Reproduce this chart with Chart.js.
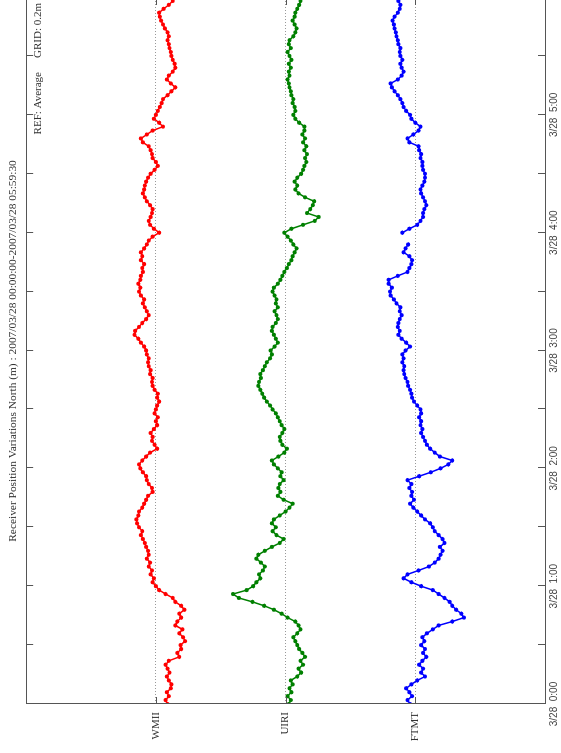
<!DOCTYPE html>
<html>
<head>
<meta charset="utf-8">
<script src="https://cdn.jsdelivr.net/npm/chart.js@4.4.0/dist/chart.umd.min.js"></script>
<style>
html, body { margin: 0; padding: 0; background: #fff; overflow: hidden; width: 561px; height: 753px; }
#wrap { position: absolute; left: 0; top: 0; width: 770px; height: 561px; transform-origin: 0 0; transform: translateY(753px) rotate(-90deg); }
#posChart { display: block; }
</style>
</head>
<body>
<div id="wrap"><canvas id="posChart" width="770" height="561"></canvas></div>
<script>
// stations, top to bottom
const stations = ["WMII", "UIRI", "FTMT"];
const stationBase = [0.6, 0.4, 0.2];          // m, grid 0.2m apart
const stationColors = ["#ff0000", "#008000", "#0000ff"];

// hour ticks, labels on whole hours
const hourTicks = [0, 0.5, 1, 1.5, 2, 2.5, 3, 3.5, 4, 4.5, 5, 5.5];
const dayLabel = "3/28";

// one sample every 2 minutes, 00:00 .. 05:58
const sampleMinutes = Array.from({ length: 180 }, (_, i) => i * 2);

// north variation in mm
const wmiiNorth = [
  -18, -15, -20, -17, -23, -24, -20, -17, -21, -18,
  -15, -20, -36, -33, -39, -38, -45, -42, -36, -41,
  -30, -33, -39, -36, -44, -39, -30, -26, -15, -5,
  0, 5, 3, 8, 6, 11, 9, 14, 11, 12,
  15, 17, 20, 23, 21, 26, 29, 30, 27, 26,
  21, 18, 15, 12, 5, 6, 11, 14, 15, 20,
  24, 26, 21, 15, 9, -2, 2, 6, 5, 8,
  3, -2, 0, -3, 2, 0, -2, -5, -2, -3,
  2, 5, 6, 5, 9, 8, 11, 12, 11, 14,
  15, 18, 23, 27, 33, 32, 26, 21, 15, 11,
  14, 17, 20, 18, 23, 26, 24, 27, 24, 23,
  20, 21, 18, 23, 21, 23, 18, 14, 11, 5,
  -5, 3, 9, 11, 8, 6, 5, 9, 14, 17,
  20, 18, 17, 15, 12, 8, 2, -3, 0, 5,
  6, 8, 11, 20, 23, 14, 5, -11, -5, 3,
  0, -3, -6, -9, -11, -18, -24, -30, -23, -17,
  -20, -26, -30, -29, -26, -24, -23, -21, -20, -18,
  -20, -18, -14, -11, -8, -6, -5, -12, -20, -26
];
const uiriNorth = [
  -5, -8, -3, -9, -6, -11, -8, -18, -24, -20,
  -27, -23, -30, -26, -21, -18, -15, -12, -18, -23,
  -20, -15, -3, 6, 18, 33, 51, 72, 81, 60,
  50, 45, 39, 41, 35, 32, 38, 45, 42, 32,
  21, 9, 3, 14, 20, 15, 21, 18, 9, 0,
  -6, -11, 3, 12, 8, 11, 9, 3, 8, 6,
  12, 18, 21, 11, 2, -2, 5, 8, 9, 5,
  2, 6, 9, 12, 15, 20, 24, 29, 33, 36,
  39, 42, 41, 38, 39, 35, 32, 29, 24, 21,
  23, 17, 12, 15, 18, 21, 20, 15, 12, 14,
  17, 12, 15, 14, 17, 20, 18, 12, 8, 5,
  2, -2, -5, -9, -11, -14, -17, -12, -8, -3,
  2, -9, -27, -45, -51, -33, -38, -42, -44, -30,
  -20, -15, -18, -14, -18, -24, -27, -29, -32, -30,
  -33, -29, -32, -27, -30, -26, -29, -29, -21, -15,
  -12, -15, -14, -11, -12, -9, -8, -6, -5, -3,
  -6, -5, -8, -5, -9, -6, -3, -8, -5, -6,
  -12, -15, -17, -14, -11, -14, -15, -18, -21, -23
];
const ftmtNorth = [
  8, 12, 5, 9, 14, 6, -3, -15, -9, -12,
  -6, -11, -17, -12, -15, -9, -14, -11, -18, -27,
  -36, -57, -75, -71, -63, -57, -53, -45, -36, -27,
  -9, 6, 18, 12, -5, -21, -30, -36, -39, -42,
  -38, -45, -42, -36, -30, -27, -23, -15, -9, -3,
  3, 8, 2, 6, 5, 9, 6, 12, -6, -24,
  -39, -51, -57, -38, -30, -23, -18, -15, -12, -9,
  -11, -8, -9, -6, -9, -8, -3, 2, 5, 6,
  8, 11, 12, 15, 17, 18, 17, 20, 18, 20,
  15, 8, 14, 21, 26, 24, 27, 26, 24, 21,
  24, 23, 29, 33, 38, 39, 36, 41, 41, 27,
  12, 9, 6, 5, 9, 18, 15, 11, null, null,
  20, 9, -3, -8, -12, -12, -14, -17, -15, -12,
  -9, -8, -11, -14, -15, -15, -12, -11, -11, -8,
  -9, -6, -5, 9, 12, 3, -5, -8, 0, 6,
  8, 14, 18, 20, 23, 27, 32, 36, 38, 27,
  21, 18, 21, 23, 20, 23, 24, 23, 26, 27,
  29, 30, 32, 33, 35, 32, 27, 24, 23, 26
];
const stationSeries = [wmiiNorth, uiriNorth, ftmtNorth];

const titleText = "Receiver Position Variations North (m) : 2007/03/28 00:00:00-2007/03/28 05:59:30";

function toPoints(values, base) {
    return values.map((v, i) => ({
        x: sampleMinutes[i] / 60,
        y: v === null ? null : base + v / 1000
    }));
}

// frame box, inward ticks and the REF/GRID note
const frameTicks = {
    id: "frameTicks",
    afterDraw(chart) {
        const { ctx, chartArea: a, scales } = chart;
        ctx.save();
        ctx.strokeStyle = "#555";
        ctx.lineWidth = 1;
        ctx.strokeRect(Math.round(a.left) + 0.5, Math.round(a.top) + 0.5,
            Math.round(a.right - a.left), Math.round(a.bottom - a.top));
        ctx.beginPath();
        scales.x.ticks.forEach(t => {
            const px = Math.round(scales.x.getPixelForValue(t.value)) + 0.5;
            ctx.moveTo(px, a.top); ctx.lineTo(px, a.top + 7);
            ctx.moveTo(px, a.bottom); ctx.lineTo(px, a.bottom - 7);
        });
        scales.y.ticks.forEach(t => {
            const py = Math.round(scales.y.getPixelForValue(t.value)) + 0.5;
            ctx.moveTo(a.left, py); ctx.lineTo(a.left + 7, py);
            ctx.moveTo(a.right, py); ctx.lineTo(a.right - 7, py);
        });
        ctx.stroke();

        ctx.fillStyle = "#333";
        ctx.font = '11px "Liberation Serif"';
        ctx.textBaseline = "middle";
        ctx.textAlign = "right";
        ctx.fillText("GRID: 0.2m", a.right - 5, a.top + 12);
        ctx.fillText("REF: Average", a.right - 74, a.top + 12);
        ctx.restore();
    }
};

const ctx = document.getElementById("posChart").getContext("2d");
window.posChart = new Chart(ctx, {
    type: "line",
    data: {
        datasets: stations.map((name, k) => ({
            label: name,
            data: toPoints(stationSeries[k], stationBase[k]),
            borderColor: stationColors[k],
            backgroundColor: stationColors[k],
            borderWidth: 1.5,
            pointRadius: 2.1,
            pointBorderWidth: 0,
            tension: 0,
            spanGaps: false
        }))
    },
    options: {
        responsive: false,
        animation: false,
        layout: { padding: { left: 0, right: 15, top: 0, bottom: 0 } },
        plugins: {
            legend: { display: false },
            tooltip: { enabled: false },
            title: {
                display: true,
                text: titleText,
                fullSize: false,
                color: "#333",
                font: { family: "Liberation Serif", size: 11.4, weight: "normal" },
                padding: { top: 6.5, bottom: 6 }
            }
        },
        scales: {
            x: {
                type: "linear",
                min: 0,
                max: 359.5 / 60,
                afterBuildTicks: s => { s.ticks = hourTicks.map(v => ({ value: v })); },
                afterFit: s => { s.height = 16; },
                grid: { display: false, drawTicks: false },
                border: { display: false },
                ticks: {
                    autoSkip: false,
                    maxRotation: 0,
                    padding: 3,
                    color: "#444",
                    font: { family: "Liberation Sans", size: 10 },
                    callback: v => Number.isInteger(v) ? dayLabel + "  " + v + ":00" : ""
                }
            },
            y: {
                type: "linear",
                min: 0,
                max: 0.8,
                afterBuildTicks: s => { s.ticks = stationBase.map(v => ({ value: v })); },
                afterFit: s => { s.width = 49; },
                grid: { color: "#999", lineWidth: 1, drawTicks: false },
                border: { display: false, dash: [1, 2] },
                ticks: {
                    padding: 8,
                    color: "#333",
                    font: { family: "Liberation Serif", size: 11 },
                    callback: v => stations[stationBase.indexOf(v)] || ""
                }
            }
        }
    },
    plugins: [frameTicks]
});
</script>
</body>
</html>
